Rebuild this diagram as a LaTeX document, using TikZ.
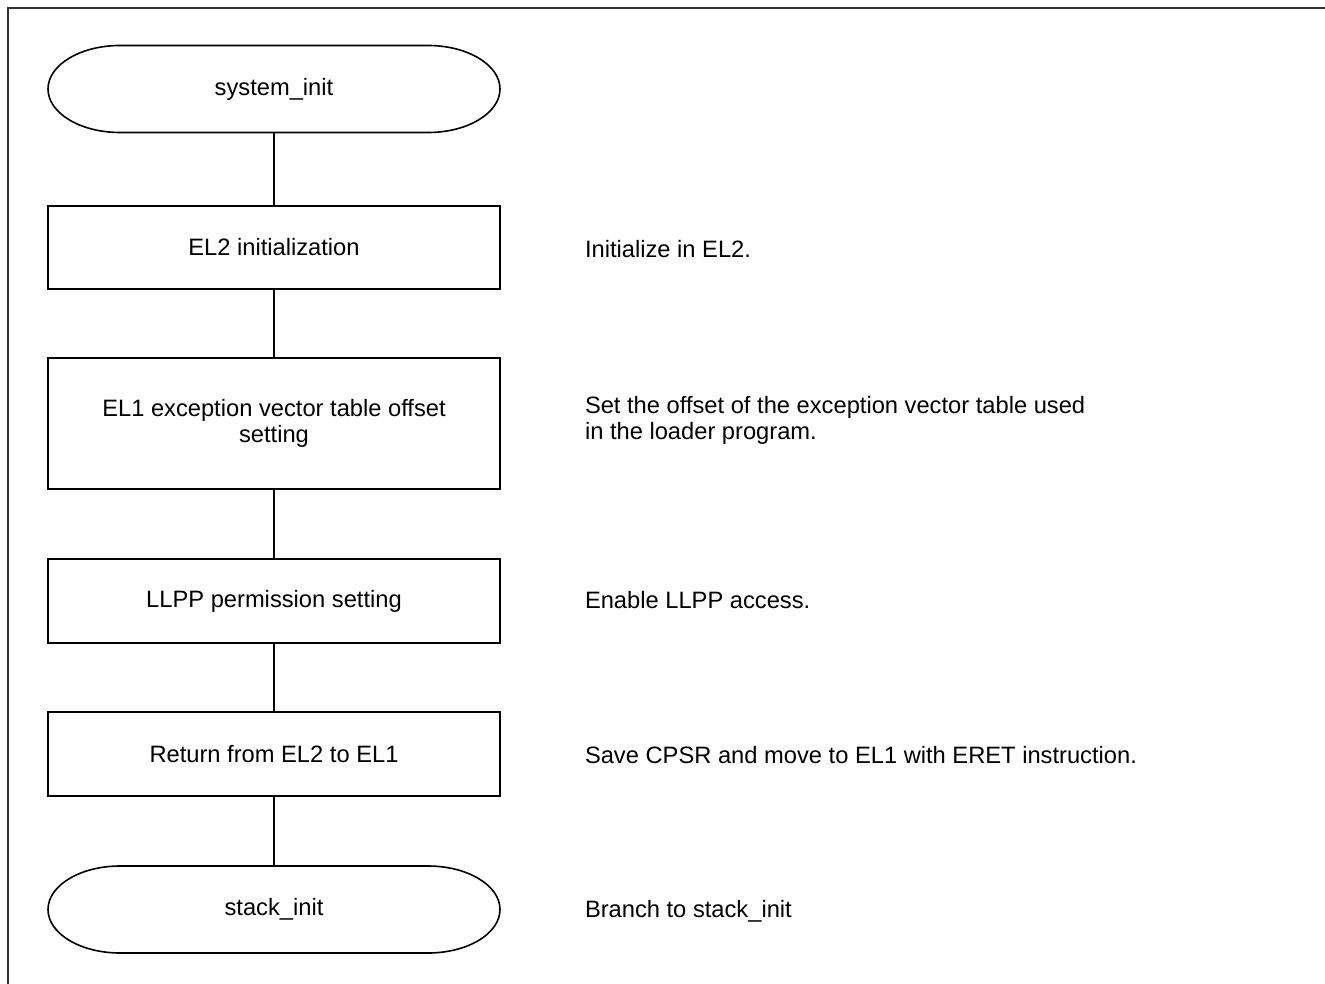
\documentclass[tikz,border=0pt]{standalone}
\usepackage{fontspec}
\setmainfont{Liberation Sans}
\begin{document}
\begin{tikzpicture}[x=1pt,y=-1pt,
  every node/.style={font=\fontsize{23.7}{26}\selectfont, inner sep=0pt, outer sep=0pt},
  proc/.style={draw, line width=1.6pt, minimum width=452pt, align=center},
  term/.style={minimum width=452pt, minimum height=87pt},
  note/.style={anchor=base west, align=left},
  conn/.style={line width=1.6pt},
  frame/.style={line width=1.8pt, draw=black!80}]
\useasboundingbox (0,0) rectangle (1325,984);
\draw[frame] (8,984) -- (8,8) -- (1325,8);

\node[term] (sys) at (274,89) {system\_init};
\node[proc, minimum height=83pt] (el2) at (274,247.5) {EL2 initialization};
\node[proc, minimum height=131pt] (el1) at (274,423.5) {EL1 exception vector table offset\\setting};
\node[proc, minimum height=84pt] (llpp) at (274,601) {LLPP permission setting};
\node[proc, minimum height=84pt] (ret) at (274,754) {Return from EL2 to EL1};
\node[term] (stk) at (274,909.5) {stack\_init};

\foreach \n in {sys,stk}{
  \draw[conn] ([xshift=72pt]\n.north west) -- ([xshift=-72pt]\n.north east)
    arc[start angle=90,end angle=-90,x radius=72pt,y radius=43.5pt]
    -- ([xshift=72pt]\n.south west)
    arc[start angle=270,end angle=90,x radius=72pt,y radius=43.5pt] -- cycle;
}

\draw[conn] (sys.south) -- (el2.north);
\draw[conn] (el2.south) -- (el1.north);
\draw[conn] (el1.south) -- (llpp.north);
\draw[conn] (llpp.south) -- (ret.north);
\draw[conn] (ret.south) -- (stk.north);

\node[note] (n1) at (585,258) {Initialize in EL2.};
\node[note, anchor=west] (n2) at (585,420) {Set the offset of the exception vector table used\\in the loader program.};
\node[note] (n3) at (585,608) {Enable LLPP access.};
\node[note] (n4) at (585,763) {Save CPSR and move to EL1 with ERET instruction.};
\node[note] (n5) at (585,917) {Branch to stack\_init};
\end{tikzpicture}
\end{document}
